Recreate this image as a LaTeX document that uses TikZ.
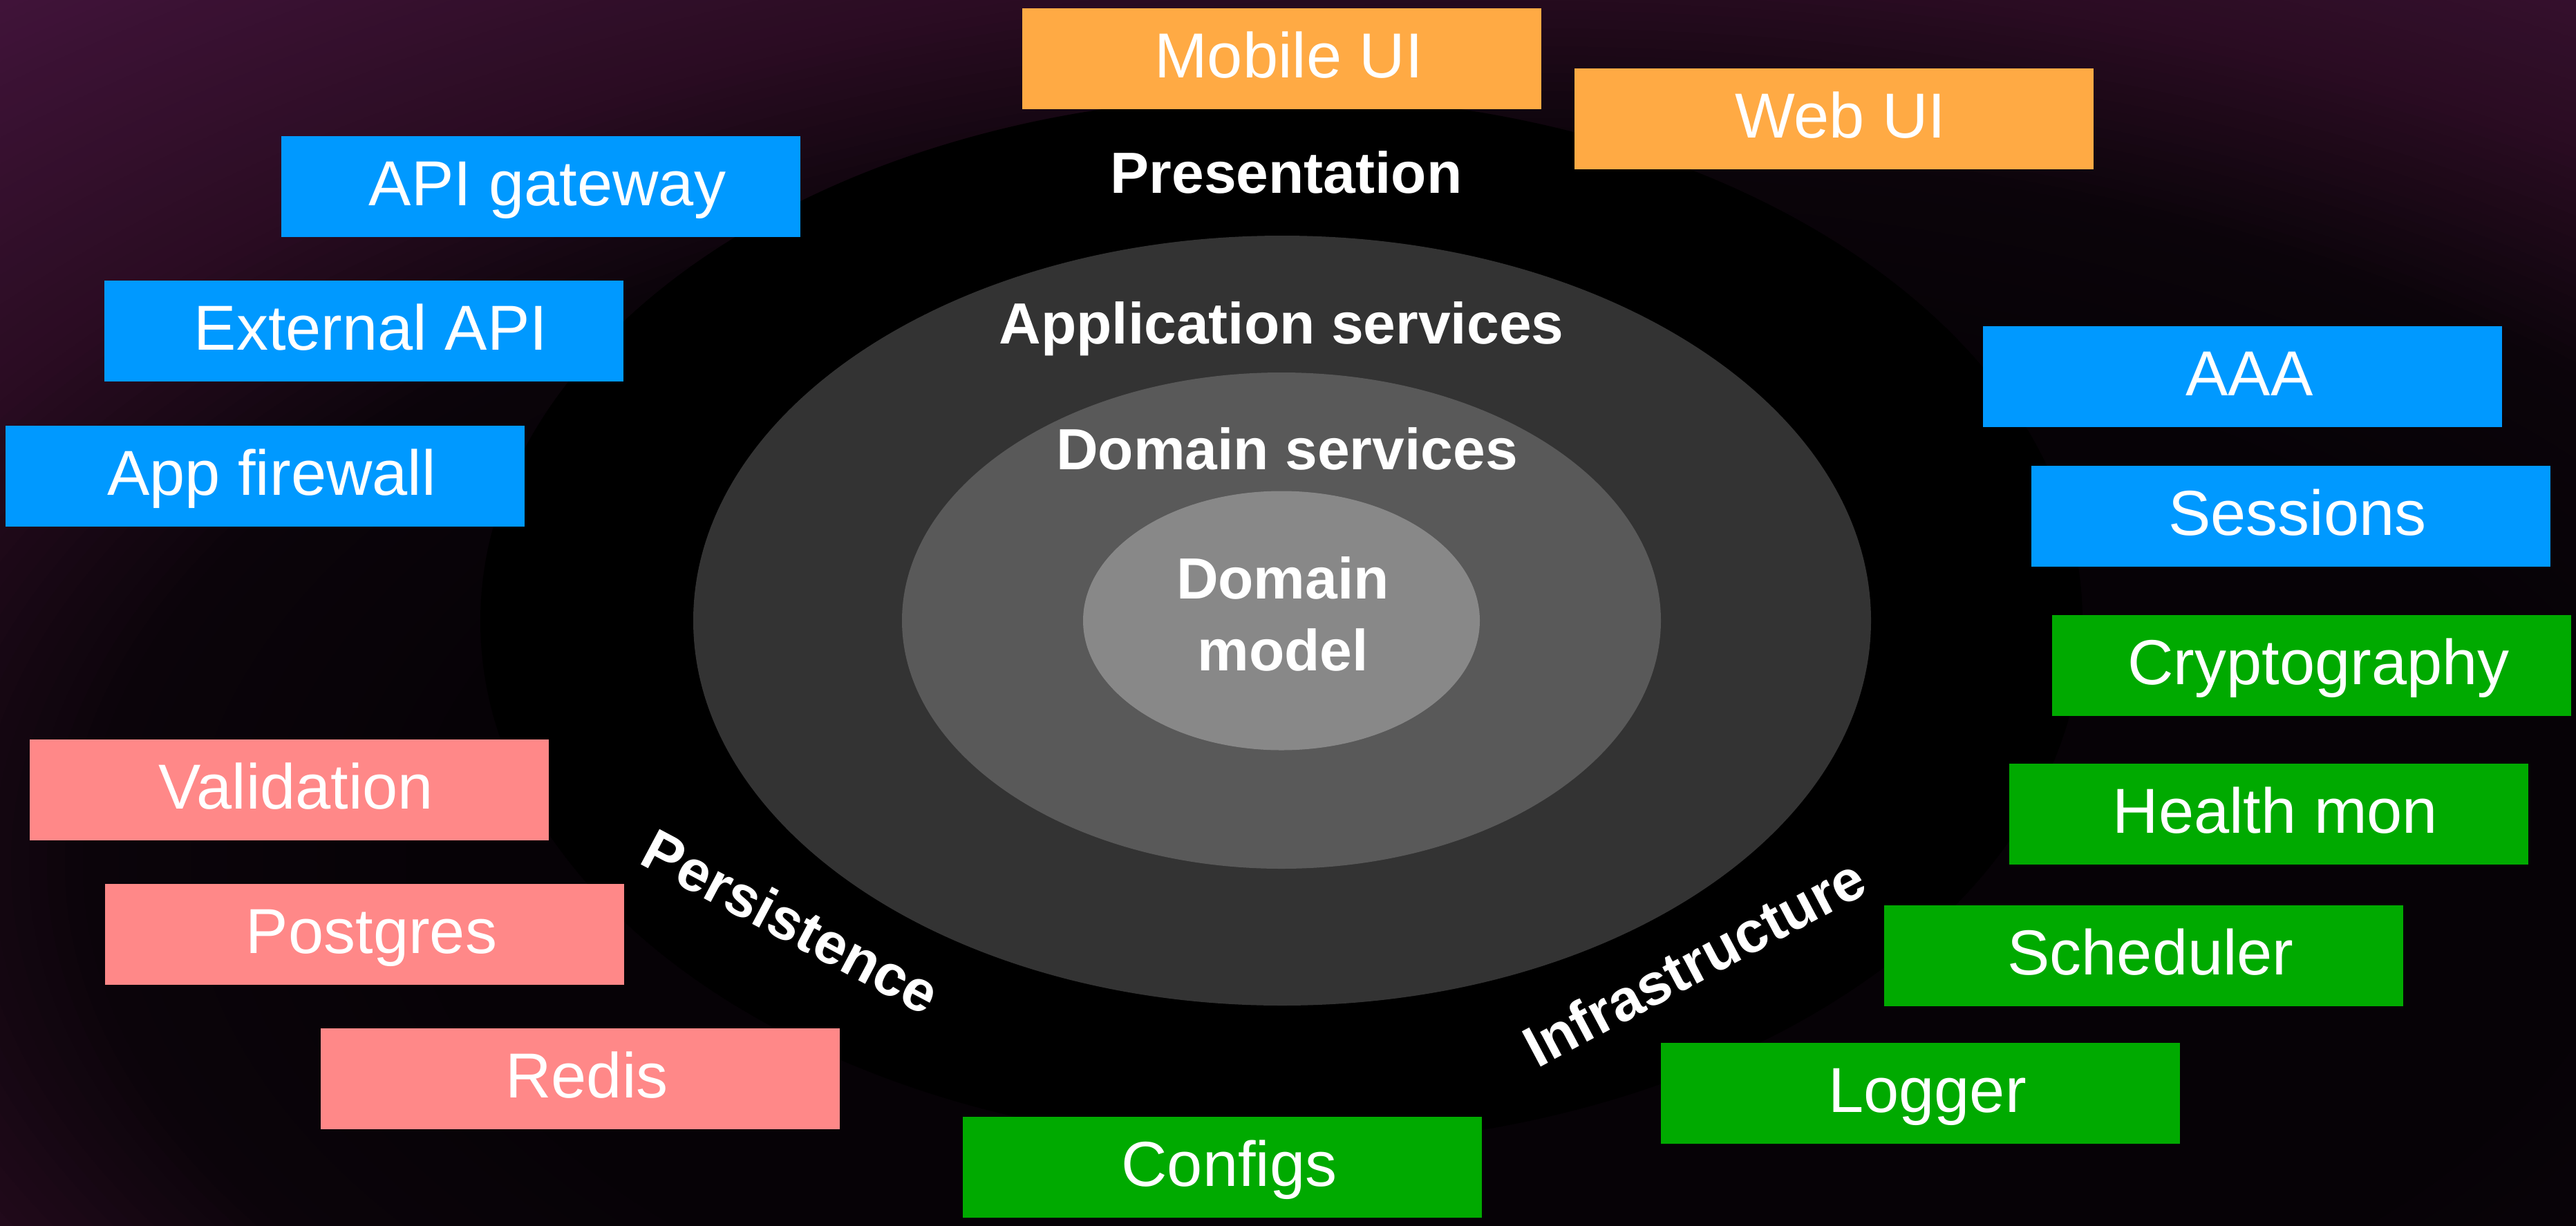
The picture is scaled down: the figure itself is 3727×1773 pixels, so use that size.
\documentclass[tikz,border=0pt]{standalone}
\usepackage{fontspec}
\setmainfont{Liberation Sans}
\usetikzlibrary{shapes.geometric}

% palette
\definecolor{uiorange}{HTML}{FFAA44}
\definecolor{svcblue}{HTML}{0099FF}
\definecolor{infgreen}{HTML}{00AA00}
\definecolor{dbpink}{HTML}{FF8888}
\definecolor{bgin}{HTML}{060206}
\definecolor{bglow}{HTML}{0B040A}
\definecolor{bgmid}{HTML}{2A0C22}
\definecolor{bgout}{HTML}{401339}
\definecolor{ringapp}{HTML}{333333}
\definecolor{ringdom}{HTML}{595959}
\definecolor{ringmodel}{HTML}{888888}

\tikzset{
  ring/.style={ellipse, draw=none, inner sep=0pt},
  box/.style={rectangle, draw=none, minimum width=751pt, minimum height=146pt,
    inner sep=0pt, text=white, font=\fontsize{92}{110}\selectfont,
    text height=73pt, text depth=18pt, execute at begin node={\hskip20pt}},
  lbl/.style={text=white, inner sep=0pt, align=center,
    font=\bfseries\fontsize{84}{104}\selectfont},
}

\begin{document}
\begin{tikzpicture}[x=1pt,y=-1pt]
\useasboundingbox (0,0) rectangle (3727,1773);

% background: dark centre fading to purple towards the corners (stepped glow)
\begin{scope}
  \clip (0,0) rectangle (3727,1773);
  \fill[bgout] (0,0) rectangle (3727,1773);
  \foreach \r in {64,63.5,...,50.5}{
    \pgfmathsetmacro{\p}{(\r-50)/14*100}
    \fill[bgout!\p!bgmid] (2200,1250) ellipse [x radius=52*\r pt, y radius=26*\r pt];
  }
  \foreach \r in {50,49.5,...,40.5}{
    \pgfmathsetmacro{\p}{(\r-40)/10*100}
    \fill[bgmid!\p!bglow] (2200,1250) ellipse [x radius=52*\r pt, y radius=26*\r pt];
  }
  \foreach \r in {40,39.5,...,30}{
    \pgfmathsetmacro{\p}{(\r-30)/10*100}
    \fill[bglow!\p!bgin] (2200,1250) ellipse [x radius=52*\r pt, y radius=26*\r pt];
  }
\end{scope}

% concentric layers
\node[ring, fill=black,     minimum width=2318pt, minimum height=1520pt] (layerpres)  at (1854,899) {};
\node[ring, fill=ringapp,   minimum width=1704pt, minimum height=1114pt] (layerapp)   at (1855,898) {};
\node[ring, fill=ringdom,   minimum width=1098pt, minimum height=718pt]  (layerdom)   at (1854,898) {};
\node[ring, fill=ringmodel, minimum width=574pt,  minimum height=375pt]  (layermodel) at (1854,898) {};

% layer titles
\node[lbl] (tpres)  at (1861,249) {Presentation};
\node[lbl] (tapp)   at (1854,476) {Application services};
\node[lbl] (tdom)   at (1862,649) {Domain services};
\node[lbl] (tmodel) at (1856,888) {Domain\\model};
\node[lbl, rotate=-28] (tpersist) at (1145,1333) {Persistence};
\node[lbl, rotate=28]  (tinfra)   at (2451,1392) {Infrastructure};

% presentation components
\node[box, fill=uiorange] (mobile) at (1854.5,85) {Mobile UI};
\node[box, fill=uiorange] (web)    at (2653,172)  {Web UI};

% edge / service components
\node[box, fill=svcblue] (gateway)  at (782,270)    {API gateway};
\node[box, fill=svcblue] (extapi)   at (526.5,479)  {External API};
\node[box, fill=svcblue] (firewall) at (383,689)    {App firewall};
\node[box, fill=svcblue] (aaa)      at (3244.5,545) {AAA};
\node[box, fill=svcblue] (sessions) at (3314,746.5) {Sessions};

% infrastructure components
\node[box, fill=infgreen] (crypto)    at (3344.5,963)  {Cryptography};
\node[box, fill=infgreen] (health)    at (3282,1178)   {Health mon};
\node[box, fill=infgreen] (scheduler) at (3101.5,1382.5) {Scheduler};
\node[box, fill=infgreen] (logger)    at (2778.5,1581.5) {Logger};
\node[box, fill=infgreen] (configs)   at (1768.5,1688.5) {Configs};

% persistence components
\node[box, fill=dbpink] (validation) at (418.5,1142.5) {Validation};
\node[box, fill=dbpink] (postgres)   at (527.5,1351.5) {Postgres};
\node[box, fill=dbpink] (redis)      at (839,1560.5)   {Redis};
\end{tikzpicture}
\end{document}
